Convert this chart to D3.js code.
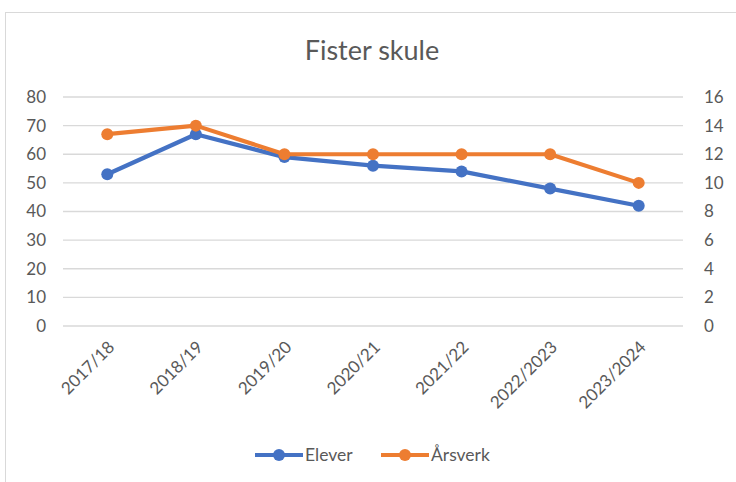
<!DOCTYPE html>
<html><head><meta charset="utf-8">
<script src="https://cdn.jsdelivr.net/npm/d3@7"></script>
<style>body{margin:0;background:#fff}text{font-family:Lato,"Open Sans",sans-serif;fill:#595959}</style>
</head><body><svg id="c" width="736" height="482"></svg>
<script>
const categories=["2017/18","2018/19","2019/20","2020/21","2021/22","2022/2023","2023/2024"];
const elever=[53,67,59,56,54,48,42];
const arsverk=[13.4,14,12,12,12,12,10];
const leftTicks=[0,10,20,30,40,50,60,70,80];
const rightTicks=[0,2,4,6,8,10,12,14,16];
const title="Fister skule";
const seriesNames=["Elever","Årsverk"];
const colors=["#4472C4","#ED7D31"];

const svg=d3.select("#c");
svg.append("rect").attr("x",5.5).attr("y",12.5).attr("width",740).attr("height",480).attr("fill","#fff").attr("stroke","#d9d9d9");
const L=63,R=683,T=97,B=326;
const x=d3.scaleBand().domain(categories).range([L,R]);
const yL=d3.scaleLinear().domain([0,80]).range([B,T]);
const yR=d3.scaleLinear().domain([0,16]).range([B,T]);

svg.append("text").attr("x",372).attr("y",60).attr("text-anchor","middle").attr("font-size",27).text(title);

svg.append("g").selectAll("line").data(leftTicks).join("line")
 .attr("x1",L).attr("x2",R).attr("y1",d=>yL(d)).attr("y2",d=>yL(d))
 .attr("stroke","#d9d9d9").attr("stroke-width",1.3);

const gl=svg.append("g").attr("transform",`translate(${L},0)`).call(d3.axisLeft(yL).tickValues(leftTicks).tickSize(0).tickPadding(17));
gl.select(".domain").remove();
gl.selectAll("text").attr("font-size",17).style("font-family","Lato,sans-serif").attr("fill","#595959");
const gr=svg.append("g").attr("transform",`translate(${R},0)`).call(d3.axisRight(yR).tickValues(rightTicks).tickSize(0).tickPadding(21));
gr.select(".domain").remove();
gr.selectAll("text").attr("font-size",17).style("font-family","Lato,sans-serif").attr("fill","#595959");

const cx=d=>x(d)+x.bandwidth()/2;
svg.append("g").selectAll("text").data(categories).join("text")
 .attr("transform",d=>`translate(${cx(d)+4},344) rotate(-45)`)
 .attr("text-anchor","end").attr("dy","0.35em").attr("font-size",17).text(d=>d);

function drawSeries(vals,y,color){
  const line=d3.line().x((d,i)=>cx(categories[i])).y(d=>y(d));
  svg.append("path").datum(vals).attr("d",line).attr("fill","none").attr("stroke",color).attr("stroke-width",4.2).attr("stroke-linejoin","round");
  svg.append("g").selectAll("circle").data(vals).join("circle")
   .attr("cx",(d,i)=>cx(categories[i])).attr("cy",d=>y(d)).attr("r",6).attr("fill",color);
}
drawSeries(elever,yL,colors[0]);
drawSeries(arsverk,yR,colors[1]);

const lg=[{n:seriesNames[0],c:colors[0],x:255},{n:seriesNames[1],c:colors[1],x:381}];
const g=svg.append("g");
lg.forEach(d=>{
  g.append("line").attr("x1",d.x).attr("x2",d.x+48).attr("y1",455).attr("y2",455).attr("stroke",d.c).attr("stroke-width",4.2);
  g.append("circle").attr("cx",d.x+24).attr("cy",455).attr("r",6).attr("fill",d.c);
  g.append("text").attr("x",d.x+50).attr("y",455).attr("dy","0.35em").attr("font-size",17.5).text(d.n);
});
</script></body></html>
